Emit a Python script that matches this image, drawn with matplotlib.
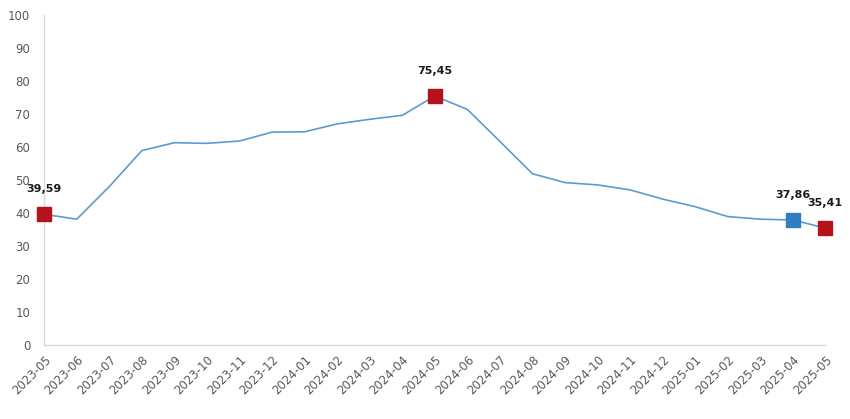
import matplotlib
matplotlib.use('Agg')
import matplotlib.pyplot as plt

months = ['2023-05', '2023-06', '2023-07', '2023-08', '2023-09', '2023-10',
          '2023-11', '2023-12', '2024-01', '2024-02', '2024-03', '2024-04',
          '2024-05', '2024-06', '2024-07', '2024-08', '2024-09', '2024-10',
          '2024-11', '2024-12', '2025-01', '2025-02', '2025-03', '2025-04',
          '2025-05']
values = [39.59, 38.1, 48.0, 58.9, 61.3, 61.1, 61.8, 64.5, 64.6, 67.0, 68.4,
          69.6, 75.45, 71.4, 61.7, 51.9, 49.2, 48.5, 47.0, 44.2, 41.9, 38.9,
          38.1, 37.86, 35.41]
red_points = ['2023-05', '2024-05', '2025-05']
blue_points = ['2025-04']

LINE_COLOR = '#5b9bd5'
RED = '#b5121b'
BLUE = '#2e7ec1'
GRAY = '#595959'

fig = plt.figure(figsize=(8.5, 4.19), dpi=100)
ax = fig.add_axes([0.052, 0.177, 0.919, 0.787])

x = list(range(len(months)))
ax.plot(x, values, color=LINE_COLOR, linewidth=1.2, zorder=2, clip_on=False)

for m, c in [(p, RED) for p in red_points] + [(p, BLUE) for p in blue_points]:
    i = months.index(m)
    ax.plot(i, values[i], marker='s', markersize=9.5, color=c,
            markeredgecolor=c, linestyle='none', zorder=3, clip_on=False)
    ax.annotate(f'{values[i]:.2f}'.replace('.', ','), (i, values[i]),
                xytext=(0, 18), textcoords='offset points', ha='center',
                va='center', fontsize=8, fontweight='bold', color='#1a1a1a')

ax.set_xlim(0, len(months) - 1)
ax.set_ylim(0, 100)
ax.set_yticks(range(0, 101, 10))
ax.set_xticks(x)
ax.set_xticklabels(months, rotation=45, ha='right', rotation_mode='anchor')

for side in ['top', 'right']:
    ax.spines[side].set_visible(False)
for side in ['left', 'bottom']:
    ax.spines[side].set_color('#d9d9d9')
    ax.spines[side].set_linewidth(1)

ax.tick_params(axis='both', length=0, colors=GRAY, labelsize=8.5)
ax.tick_params(axis='y', pad=10)
ax.tick_params(axis='x', pad=6)

plt.savefig('out.png', dpi=100)
